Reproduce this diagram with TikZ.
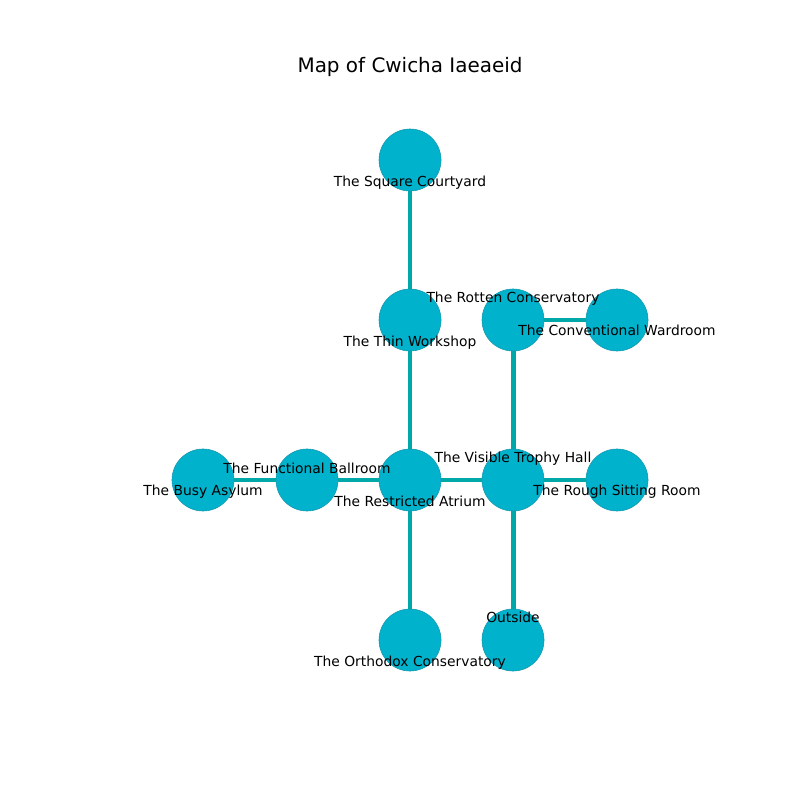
\documentclass[tikz,border=0pt]{standalone}
\usepackage{fontspec}
\setmainfont{DejaVu Sans}
\usetikzlibrary{backgrounds}
\definecolor{roomfill}{HTML}{00B2CC}
\definecolor{roomedge}{HTML}{1597AD}
\definecolor{doorline}{HTML}{00A8A8}
\tikzset{
    room/.style={circle, fill=roomfill, draw=roomedge, line width=0.4pt, minimum size=0.62in, inner sep=0pt},
    door/.style={doorline, line width=3.6pt},
    lbl/.style={font=\fontsize{10}{12}\selectfont, inner sep=0pt, text height=7.6pt, text depth=2.4pt}
}
\begin{document}
\begin{tikzpicture}[x=0.01in, y=-0.01in]
    \useasboundingbox (0,0) rectangle (800,800);
    \node[font=\fontsize{14.4}{17}\selectfont] (title) at (410,67) {Map of Cwicha Iaeaeid};
    % rooms
    \node[room] (courtyard) at (410,160) {};
    \node[room] (workshop) at (410,320) {};
    \node[room] (rotten) at (513,320) {};
    \node[room] (wardroom) at (617,320) {};
    \node[room] (asylum) at (203,480) {};
    \node[room] (ballroom) at (307,480) {};
    \node[room] (atrium) at (410,480) {};
    \node[room] (trophy) at (513,480) {};
    \node[room] (sitting) at (617,480) {};
    \node[room] (orthodox) at (410,640) {};
    \node[room] (outside) at (513,640) {};
    % doors
    \begin{scope}[on background layer]
    \draw[door] (courtyard) -- (workshop);
    \draw[door] (workshop) -- (atrium);
    \draw[door] (atrium) -- (orthodox);
    \draw[door] (atrium) -- (ballroom);
    \draw[door] (ballroom) -- (asylum);
    \draw[door] (atrium) -- (trophy);
    \draw[door] (trophy) -- (sitting);
    \draw[door] (trophy) -- (outside);
    \draw[door] (trophy) -- (rotten);
    \draw[door] (rotten) -- (wardroom);
    \end{scope}
    % names
    \node[lbl] (courtyard-l) at ([yshift=-16.4pt]courtyard) {The Square Courtyard};
    \node[lbl] (workshop-l) at ([yshift=-16.4pt]workshop) {The Thin Workshop};
    \node[lbl] (rotten-l) at ([yshift=15.3pt]rotten) {The Rotten Conservatory};
    \node[lbl] (wardroom-l) at ([yshift=-8.4pt]wardroom) {The Conventional Wardroom};
    \node[lbl] (asylum-l) at ([yshift=-8.4pt]asylum) {The Busy Asylum};
    \node[lbl] (ballroom-l) at ([yshift=7.4pt]ballroom) {The Functional Ballroom};
    \node[lbl] (atrium-l) at ([yshift=-16.4pt]atrium) {The Restricted Atrium};
    \node[lbl] (trophy-l) at ([yshift=15.3pt]trophy) {The Visible Trophy Hall};
    \node[lbl] (sitting-l) at ([yshift=-8.4pt]sitting) {The Rough Sitting Room};
    \node[lbl] (orthodox-l) at ([yshift=-16.4pt]orthodox) {The Orthodox Conservatory};
    \node[lbl] (outside-l) at ([yshift=15.3pt]outside) {Outside};
\end{tikzpicture}
\end{document}
